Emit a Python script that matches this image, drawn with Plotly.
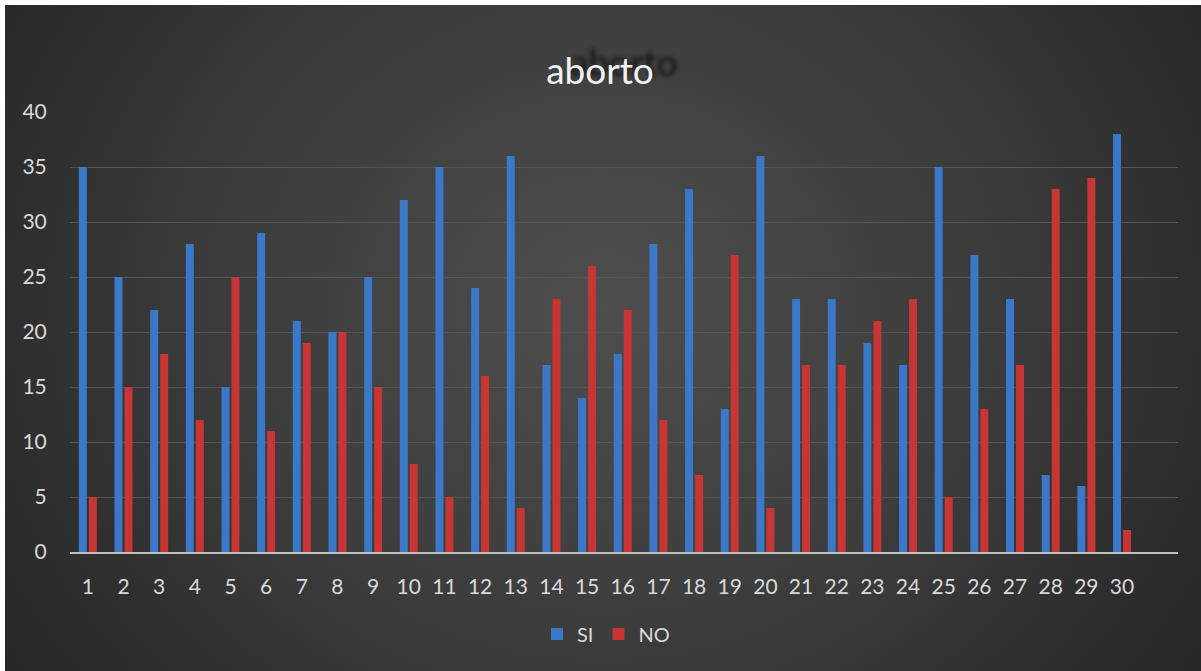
import base64
import plotly.graph_objects as go

categories = list(range(1, 31))
si_values = [35, 25, 22, 28, 15, 29, 21, 20, 25, 32, 35, 24, 36, 17, 14, 18, 28, 33, 13, 36,
             23, 23, 19, 17, 35, 27, 23, 7, 6, 38]
no_values = [5, 15, 18, 12, 25, 11, 19, 20, 15, 8, 5, 16, 4, 23, 26, 22, 12, 7, 27, 4,
             17, 17, 21, 23, 5, 13, 17, 33, 34, 2]
y_ticks = [0, 5, 10, 15, 20, 25, 30, 35, 40]

W, H = 1201, 671
ML, MR, MT, MB = 70, 23, 112, 119
PW, PH = W - ML - MR, H - MT - MB

svg = f'''<svg xmlns="http://www.w3.org/2000/svg" width="{W-5}" height="{H-5}" viewBox="0 0 {W-5} {H-5}" preserveAspectRatio="none">
<defs><radialGradient id="g" cx="0.5" cy="0.45" r="0.62" gradientTransform="translate(0.5 0.45) scale(1 1.6) translate(-0.5 -0.45)">
<stop offset="0" stop-color="#4e4e4e"/><stop offset="0.55" stop-color="#3a3a3a"/><stop offset="1" stop-color="#252525"/></radialGradient></defs>
<rect width="100%" height="100%" fill="url(#g)"/></svg>'''
src = "data:image/svg+xml;base64," + base64.b64encode(svg.encode()).decode()

fig = go.Figure()
fig.add_trace(go.Bar(x=categories, y=si_values, name="SI",
                     marker=dict(color="#3b78c8", line=dict(width=0))))
fig.add_trace(go.Bar(x=categories, y=no_values, name="NO",
                     marker=dict(color="#c83535", line=dict(width=0))))

fig.add_layout_image(dict(source=src, xref="paper", yref="paper",
                          x=(5 - ML) / PW, y=1 + (MT - 5) / PH,
                          sizex=(W - 5) / PW, sizey=(H - 5) / PH,
                          xanchor="left", yanchor="top", sizing="stretch", layer="below"))

fig.update_layout(
    width=W, height=H,
    margin=dict(l=ML, r=MR, t=MT, b=MB),
    paper_bgcolor="#ffffff",
    plot_bgcolor="rgba(0,0,0,0)",
    font=dict(family="Lato, 'Open Sans', sans-serif", color="#d9d9d9", size=21),
    title=dict(text="aborto", x=600 / W, xanchor="center", y=1 - 71 / H, yanchor="middle",
               font=dict(size=37, color="#f2f2f2", shadow="24px -8px 4px #151515")),
    barmode="group", bargap=0.44, bargroupgap=0.2,
    showlegend=True,
    legend=dict(orientation="h", x=(606 - ML) / PW, xanchor="center", y=-(634 - 552) / PH,
                yanchor="middle", font=dict(size=20, color="#d9d9d9"),
                bgcolor="rgba(0,0,0,0)", itemwidth=30, traceorder="normal"),
    xaxis=dict(range=[0.5, 31.57], tickmode="array", tickvals=categories,
               ticktext=[str(c) for c in categories], showgrid=False,
               showline=True, linecolor="#bfbfbf", linewidth=2,
               ticks="outside", ticklen=15, tickcolor="rgba(0,0,0,0)", zeroline=False),
    yaxis=dict(range=[0, 40], tickmode="array", tickvals=y_ticks, showgrid=True,
               gridcolor="#555555", gridwidth=1, zeroline=False, showline=False,
               ticks="outside", ticklen=18, tickcolor="rgba(0,0,0,0)"),
)

fig.write_html("out.html", config={"displayModeBar": False},
               post_script="document.body.style.margin='0';document.body.style.overflow='hidden';")
